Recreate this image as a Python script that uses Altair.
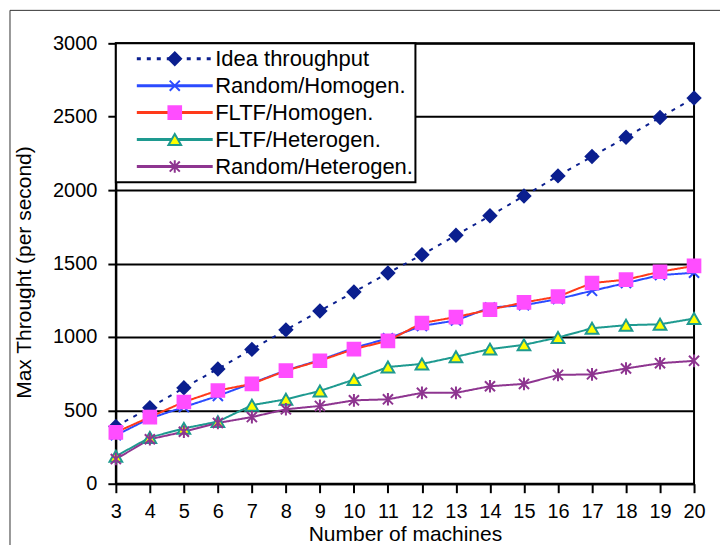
import altair as alt
import pandas as pd

machines = [3, 4, 5, 6, 7, 8, 9, 10, 11, 12, 13, 14, 15, 16, 17, 18, 19, 20]
series_names = ["Idea throughput", "Random/Homogen.", "FLTF/Homogen.",
                "FLTF/Heterogen.", "Random/Heterogen."]
ideal = [390, 517, 653, 782, 915, 1048, 1177, 1306, 1435, 1560, 1692, 1825,
         1960, 2097, 2229, 2360, 2495, 2627]
random_homo = [330, 445, 522, 598, 685, 772, 842, 925, 990, 1075, 1112, 1200,
               1216, 1258, 1314, 1367, 1421, 1437]
fltf_homo = [350, 454, 557, 635, 680, 770, 838, 917, 973, 1095, 1135, 1186,
             1235, 1275, 1367, 1390, 1444, 1484]
fltf_hetero = [187, 315, 377, 423, 535, 575, 632, 709, 795, 816, 865, 917,
               946, 996, 1059, 1080, 1086, 1125]
random_hetero = [168, 303, 354, 414, 454, 507, 530, 568, 575, 619, 619, 664,
                 680, 741, 745, 785, 821, 837]
y_ticks = [0, 500, 1000, 1500, 2000, 2500, 3000]

line_colors = ["#0B1F8F", "#2B4BFF", "#FF3A1A", "#1E9A90", "#8E3590"]
marker_fills = ["#0B1F8F", "#2B4BFF", "#FF4DFF", "#FFFF00", "#8E3590"]
marker_strokes = ["#0B1F8F", "#2B4BFF", "#FF4DFF", "#1E9A90", "#8E3590"]
dashes = [[4, 6], [1, 0], [1, 0], [1, 0], [1, 0]]
x_path = "M-0.8,-0.8L0.8,0.8M-0.8,0.8L0.8,-0.8"
star_path = "M-0.8,-0.8L0.8,0.8M-0.8,0.8L0.8,-0.8M0,-1L0,1"
shapes = ["diamond", x_path, "square", "triangle-up", star_path]

# second key (zero-width space suffix) keeps the marker legend separate
marker_keys = [n + "\u200b" for n in series_names]

rows = []
for name, key, vals in zip(series_names, marker_keys,
                           [ideal, random_homo, fltf_homo, fltf_hetero, random_hetero]):
    for m, v in zip(machines, vals):
        rows.append({"machines": m, "value": v, "series": name, "series2": key})
df = pd.DataFrame(rows)

FONT = "Liberation Sans"

x_enc = alt.X("machines:Q",
              scale=alt.Scale(domain=[3, 20], nice=False, zero=False),
              axis=alt.Axis(values=machines, title="Number of machines",
                            grid=False, tickSize=9, labelPadding=9,
                            titlePadding=2, labelOverlap=False, labelFlush=False,
                            format="d"))
y_enc = alt.Y("value:Q",
              scale=alt.Scale(domain=[0, 3000], nice=False),
              axis=alt.Axis(values=y_ticks, title="Max Throught (per second)",
                            grid=True, tickSize=8, labelPadding=11,
                            labelFlush=False, titlePadding=18, titleY=229,
                            format="d"))

legend_a = alt.Legend(orient="none", legendX=0, legendY=0, title=None,
                      symbolType="stroke", symbolSize=5776,
                      symbolStrokeWidth=3, clipHeight=26.75, rowPadding=0,
                      padding=2, symbolOffset=17.5, labelOffset=1,
                      labelFontSize=22, labelFont=FONT, labelColor="black",
                      labelLimit=400,
                      fillColor="white", strokeColor="black")

legend_b = alt.Legend(orient="none", legendX=0, legendY=0, title=None,
                      symbolSize=160, symbolStrokeWidth=2,
                      clipHeight=26.75, rowPadding=0, padding=2,
                      symbolOffset=46, labelOffset=1, labelFontSize=22,
                      labelFont=FONT, labelColor="transparent", labelLimit=400)

lines = alt.Chart(df).mark_line(strokeWidth=2).encode(
    x=x_enc, y=y_enc,
    color=alt.Color("series:N", scale=alt.Scale(domain=series_names, range=line_colors),
                    legend=legend_a),
    strokeDash=alt.StrokeDash("series:N",
                              scale=alt.Scale(domain=series_names, range=dashes),
                              legend=legend_a),
)

points = alt.Chart(df).mark_point(filled=True, size=160, strokeWidth=2,
                                  opacity=1).encode(
    x=x_enc, y=y_enc,
    shape=alt.Shape("series2:N", scale=alt.Scale(domain=marker_keys, range=shapes),
                    legend=legend_b),
    fill=alt.Fill("series2:N", scale=alt.Scale(domain=marker_keys, range=marker_fills),
                  legend=legend_b),
    stroke=alt.Stroke("series2:N",
                      scale=alt.Scale(domain=marker_keys, range=marker_strokes),
                      legend=legend_b),
)

frame_top = alt.Chart(pd.DataFrame({"a": [0]})).mark_rule(
    color="#333333", strokeWidth=1).encode(
    x=alt.value(-106), x2=alt.value(610), y=alt.value(-33))
frame_left = alt.Chart(pd.DataFrame({"a": [0]})).mark_rule(
    color="#333333", strokeWidth=1).encode(
    x=alt.value(-106), y=alt.value(-33), y2=alt.value(510))

chart = alt.layer(lines, points, frame_top, frame_left).properties(
    width=579, height=441,
    autosize=alt.AutoSizeParams(type="none"),
    padding={"left": 108, "top": 35, "right": 26, "bottom": 61},
    background="white",
).configure_view(
    stroke="black", strokeWidth=2
).configure_axis(
    domainColor="black", domainWidth=2, tickColor="black", tickWidth=2,
    gridColor="black", gridWidth=2, gridOpacity=1,
    labelFont=FONT, labelFontSize=20, labelColor="black",
    titleFont=FONT, titleFontSize=21, titleFontWeight="normal", titleColor="black",
).configure_legend(
    strokeWidth=2
)

chart.save("out.html", embed_options={"renderer": "svg", "actions": False})
